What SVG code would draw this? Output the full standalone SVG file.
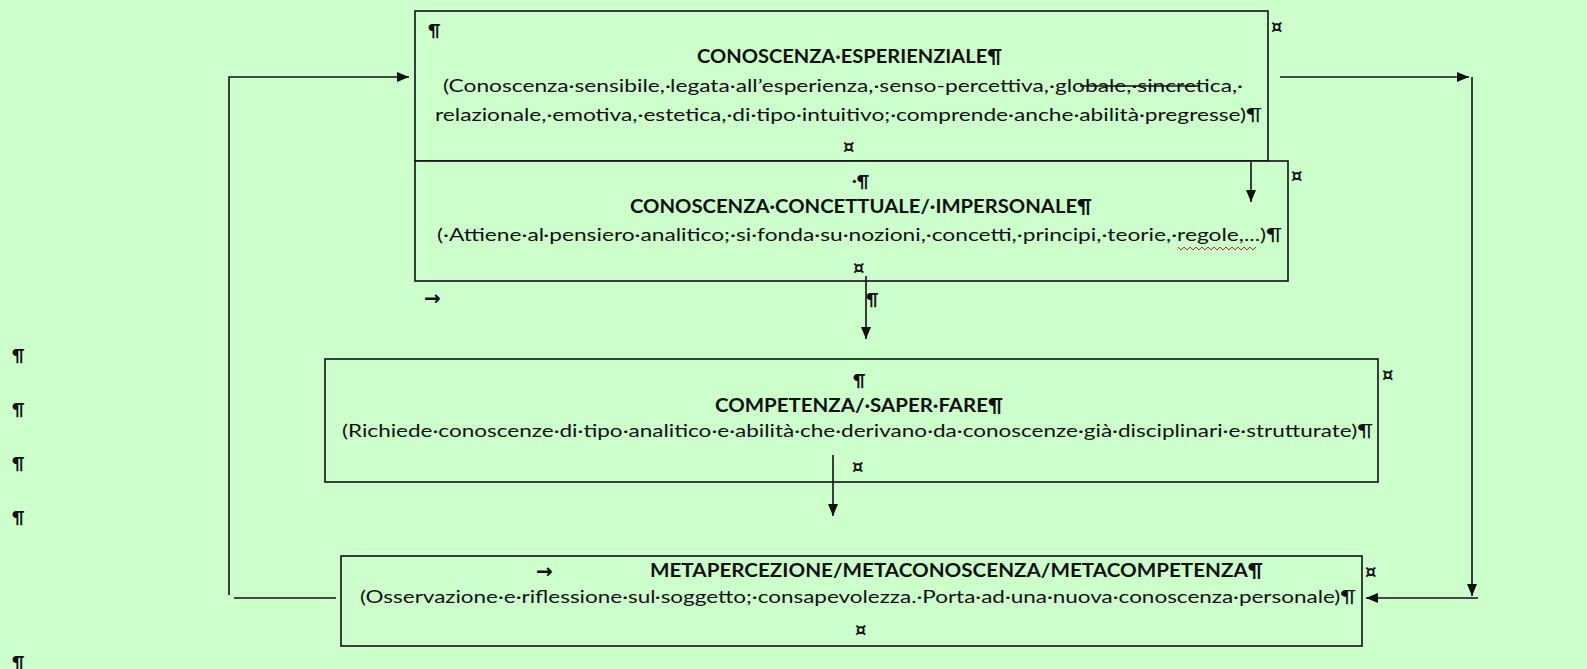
<svg xmlns="http://www.w3.org/2000/svg" width="1587" height="669" viewBox="0 0 1587 669">
<style>
  .bg { fill: #CCFFCC; }
  .box { fill: #CCFFCC; stroke: #111; stroke-width: 1.6; }
  .t { font-family: Lato, "Open Sans", "Liberation Sans", sans-serif; font-size: 18px; fill: #111; }
  .b { font-weight: bold; }
  .mk { font-family: Lato, "DejaVu Sans", sans-serif; font-size: 17px; fill: #111; font-weight: bold; }
  .cur { font-family: "DejaVu Sans", sans-serif; font-size: 18px; font-weight: bold; fill: #111; }
  .arw { font-family: "DejaVu Sans", sans-serif; font-size: 20px; font-weight: bold; fill: #111; }
  .ln { fill: none; stroke: #111; stroke-width: 1.6; }
  .wavy { fill: none; stroke: #e02020; stroke-width: 1; }
</style>
<defs>
  <marker id="ah" markerWidth="12" markerHeight="10" refX="12" refY="5" orient="auto" markerUnits="userSpaceOnUse">
    <path d="M0,0 L12,5 L0,10 z" fill="#111"/>
  </marker>
</defs>
<rect class="bg" x="0" y="0" width="1587" height="669"/>

<g id="margin-marks">
  <text class="mk" x="12" y="361">¶</text>
  <text class="mk" x="12" y="415">¶</text>
  <text class="mk" x="12" y="469">¶</text>
  <text class="mk" x="12" y="523">¶</text>
  <text class="mk" x="12" y="668">¶</text>
</g>

<g id="node-esperienziale">
  <rect class="box" x="415" y="11" width="853" height="150"/>
  <text class="mk" x="428" y="36">¶</text>
  <text class="t b" x="697" y="63" textLength="305" lengthAdjust="spacingAndGlyphs">CONOSCENZA·ESPERIENZIALE¶</text>
  <text class="t" x="443" y="92" textLength="800" lengthAdjust="spacingAndGlyphs">(Conoscenza·sensibile,·legata·all’esperienza,·senso-percettiva,·globale,·sincretica,·</text>
  <text class="t" x="435" y="121" textLength="827" lengthAdjust="spacingAndGlyphs">relazionale,·emotiva,·estetica,·di·tipo·intuitivo;·comprende·anche·abilità·pregresse)¶</text>
  <text class="cur" x="843" y="153">¤</text>
  <text class="cur" x="1271" y="33">¤</text>
</g>

<g id="node-concettuale">
  <rect class="box" x="415" y="161" width="873" height="120"/>
  <text class="mk" x="852" y="187">·¶</text>
  <text class="t b" x="630" y="213" textLength="462" lengthAdjust="spacingAndGlyphs">CONOSCENZA·CONCETTUALE/·IMPERSONALE¶</text>
  <text class="t" x="437" y="241" textLength="845" lengthAdjust="spacingAndGlyphs">(·Attiene·al·pensiero·analitico;·si·fonda·su·nozioni,·concetti,·principi,·teorie,·regole,...)¶</text>
  <polyline class="wavy" points="1178,247 1181,250 1184,247 1187,250 1190,247 1193,250 1196,247 1199,250 1202,247 1205,250 1208,247 1211,250 1214,247 1217,250 1220,247 1223,250 1226,247 1229,250 1232,247 1235,250 1238,247 1241,250 1244,247 1247,250 1250,247 1253,250 1256,247"/>
  <text class="cur" x="853" y="274">¤</text>
  <text class="cur" x="1291" y="182">¤</text>
  <text class="arw" x="424" y="305">→</text>
  <text class="mk" x="866" y="305">¶</text>
</g>

<g id="node-competenza">
  <rect class="box" x="325" y="359" width="1053" height="123"/>
  <text class="mk" x="853" y="386">¶</text>
  <text class="t b" x="715" y="412" textLength="288" lengthAdjust="spacingAndGlyphs">COMPETENZA/·SAPER·FARE¶</text>
  <text class="t" x="342" y="437" textLength="1031" lengthAdjust="spacingAndGlyphs">(Richiede·conoscenze·di·tipo·analitico·e·abilità·che·derivano·da·conoscenze·già·disciplinari·e·strutturate)¶</text>
  <text class="cur" x="852" y="473">¤</text>
  <text class="cur" x="1382" y="381">¤</text>
</g>

<g id="node-meta">
  <rect class="box" x="341" y="556" width="1021" height="90"/>
  <text class="arw" x="536" y="578">→</text>
  <text class="t b" x="650" y="577" textLength="613" lengthAdjust="spacingAndGlyphs">METAPERCEZIONE/METACONOSCENZA/METACOMPETENZA¶</text>
  <text class="t" x="360" y="603" textLength="996" lengthAdjust="spacingAndGlyphs">(Osservazione·e·riflessione·sul·soggetto;·consapevolezza.·Porta·ad·una·nuova·conoscenza·personale)¶</text>
  <text class="cur" x="855" y="636">¤</text>
  <text class="cur" x="1365" y="578">¤</text>
</g>

<g id="connectors">
  <path class="ln" d="M229,595 V77 H409" marker-end="url(#ah)"/>
  <line class="ln" x1="234" y1="598" x2="336" y2="598"/>
  <line class="ln" x1="1280" y1="77" x2="1469" y2="77" marker-end="url(#ah)"/>
  <line class="ln" x1="1472" y1="77" x2="1472" y2="596" marker-end="url(#ah)"/>
  <line class="ln" x1="1478" y1="598" x2="1366" y2="598" marker-end="url(#ah)"/>
  <line class="ln" x1="1251" y1="162" x2="1251" y2="202" marker-end="url(#ah)"/>
  <line class="ln" x1="866" y1="276" x2="866" y2="339" marker-end="url(#ah)"/>
  <line class="ln" x1="833" y1="455" x2="833" y2="516" marker-end="url(#ah)"/>
  <line class="ln" x1="1080" y1="86" x2="1200" y2="86"/>
</g>
</svg>
